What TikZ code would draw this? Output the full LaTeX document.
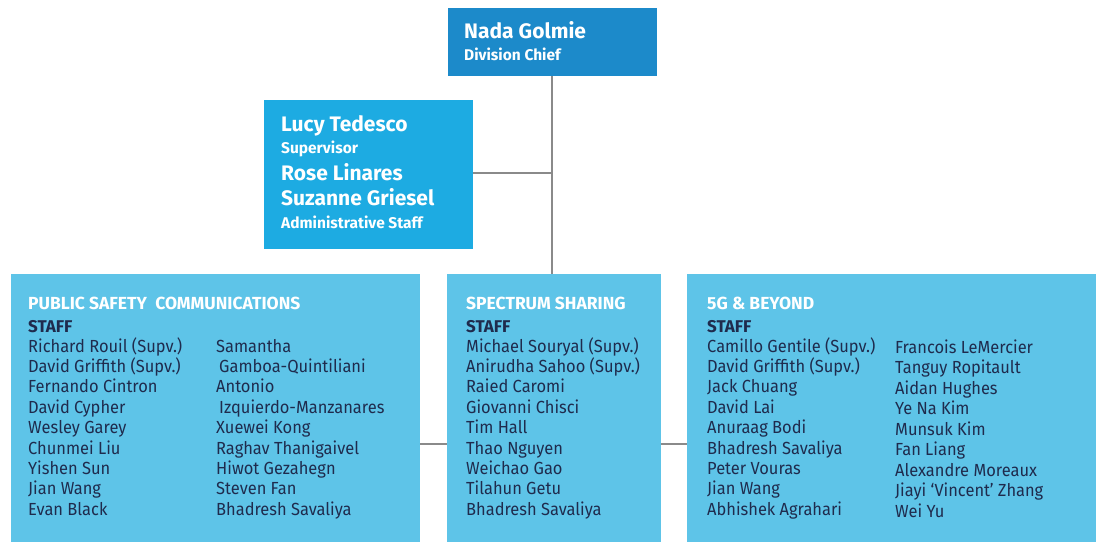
\documentclass[tikz,border=0pt]{standalone}
\usepackage{fontspec}
\setmainfont{Fira Sans}
\newfontfamily\namefont{Fira Sans}[FakeStretch=0.94]
\definecolor{chief}{HTML}{1C8ACA}
\definecolor{admin}{HTML}{1DABE2}
\definecolor{group}{HTML}{5EC4E8}
\definecolor{navy}{HTML}{1F2B4D}
\definecolor{conn}{HTML}{8A8A8A}
\tikzset{
  box/.style={anchor=north west, inner sep=0pt, outer sep=0pt, draw=none},
  bigname/.style={anchor=base west, inner sep=0pt, text=white, font=\fontsize{21}{24}\selectfont\bfseries},
  role/.style={anchor=base west, inner sep=0pt, text=white, font=\fontsize{15.5}{18}\selectfont\bfseries},
  head/.style={anchor=base west, inner sep=0pt, text=white, font=\fontsize{17.5}{20}\selectfont\bfseries},
  staff/.style={anchor=base west, inner sep=0pt, text=navy, font=\fontsize{17}{20}\selectfont\bfseries},
  person/.style={anchor=base west, inner sep=0pt, text=navy, font=\namefont\fontsize{17.5}{20}\selectfont},
  link/.style={draw=conn, line width=1.2pt}
}
\begin{document}
\begin{tikzpicture}[x=1pt,y=-1pt]
\useasboundingbox (0,0) rectangle (1099,543);
% boxes
\node[box, fill=chief, minimum width=209pt, minimum height=68pt] (chief) at (448,8) {};
\node[box, fill=admin, minimum width=209pt, minimum height=149pt] (admin) at (264,100) {};
\node[box, fill=group, minimum width=409pt, minimum height=268pt] (psc) at (11,274) {};
\node[box, fill=group, minimum width=214pt, minimum height=268pt] (ss) at (447,274) {};
\node[box, fill=group, minimum width=409pt, minimum height=268pt] (fg) at (687,274) {};
% connectors
\coordinate (j) at (552,173);
\draw[link] (chief.south -| j) -- (ss.north -| j);
\draw[link] (admin.east |- j) -- (j);
\draw[link] (psc.east |- 0,444) -- (ss.west |- 0,444);
\draw[link] (ss.east |- 0,444) -- (fg.west |- 0,444);
% chief
\node[bigname] (t-chief) at (464,38) {Nada Golmie};
\node[role] (t-chiefrole) at (464,60) {Division Chief};
% admin
\node[bigname] (t-lucy) at (281,131) {Lucy Tedesco};
\node[role] (t-sup) at (281,153) {Supervisor};
\node[bigname] (t-rose) at (281,180) {Rose Linares};
\node[bigname] (t-suz) at (281,205) {Suzanne Griesel};
\node[role] (t-adm) at (281,228) {Administrative Staff};
% PSC
\node[head] (h-psc) at (28,309) {PUBLIC SAFETY\ \ COMMUNICATIONS};
\node[staff] (s-psc) at (28,332) {STAFF};
\foreach \t [count=\i] in {Richard Rouil (Supv.), David Griffith (Supv.), Fernando Cintron, David Cypher, Wesley Garey, Chunmei Liu, Yishen Sun, Jian Wang, Evan Black}
  \node[person] (psc-a-\i) at (28,{352+(\i-1)*20.4}) {\t};
\foreach \t [count=\i] in {Samantha, \hspace{3pt}Gamboa-Quintiliani, Antonio, \hspace{3pt}Izquierdo-Manzanares, Xuewei Kong, Raghav Thanigaivel, Hiwot Gezahegn, Steven Fan, Bhadresh Savaliya}
  \node[person] (psc-b-\i) at (216,{352+(\i-1)*20.4}) {\t};
% SS
\node[head] (h-ss) at (466,309) {SPECTRUM SHARING};
\node[staff] (s-ss) at (466,332) {STAFF};
\foreach \t [count=\i] in {Michael Souryal (Supv.), Anirudha Sahoo (Supv.), Raied Caromi, Giovanni Chisci, Tim Hall, Thao Nguyen, Weichao Gao, Tilahun Getu, Bhadresh Savaliya}
  \node[person] (ss-a-\i) at (466,{352+(\i-1)*20.4}) {\t};
% 5G
\node[head] (h-fg) at (707,309) {5G \& BEYOND};
\node[staff] (s-fg) at (707,332) {STAFF};
\foreach \t [count=\i] in {Camillo Gentile (Supv.), David Griffith (Supv.), Jack Chuang, David Lai, Anuraag Bodi, Bhadresh Savaliya, Peter Vouras, Jian Wang, Abhishek Agrahari}
  \node[person] (fg-a-\i) at (707,{352+(\i-1)*20.4}) {\t};
\foreach \t [count=\i] in {Francois LeMercier, Tanguy Ropitault, Aidan Hughes, Ye Na Kim, Munsuk Kim, Fan Liang, Alexandre Moreaux, Jiayi ‘Vincent’ Zhang, Wei Yu}
  \node[person] (fg-b-\i) at (895,{353+(\i-1)*20.5}) {\t};
\end{tikzpicture}
\end{document}
